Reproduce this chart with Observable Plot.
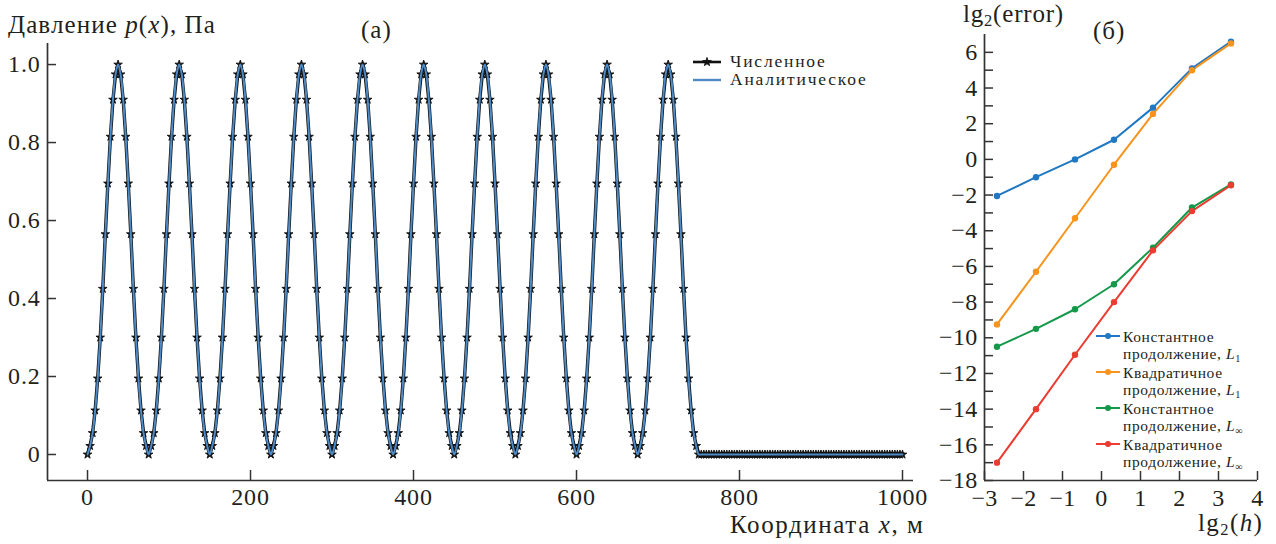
<!DOCTYPE html>
<html><head><meta charset="utf-8">
<script src="https://cdn.jsdelivr.net/npm/d3@7"></script>
<script src="https://cdn.jsdelivr.net/npm/@observablehq/plot@0.6"></script>
<style>
body{margin:0;background:#fff;}
#page{position:relative;width:1276px;height:544px;overflow:hidden;background:#fff;font-family:"Liberation Serif",serif;color:#231f20;}
.lbl{position:absolute;white-space:nowrap;line-height:1;}
.lbl sub{font-size:0.66em;vertical-align:-0.25em;line-height:0;}
#left,#right{position:absolute;top:0;}
#left{left:0;} #right{left:935px;}
</style></head><body><div id="page"><div id="left"></div><div id="right"></div></div>
<script>
// ---------- panel (а): pressure ----------
const peakX = [37.5, 112.5, 187.5, 262.5, 337.5, 412.5, 487.5, 562.5, 637.5, 712.5];
const starLevels = [1.0, 0.975, 0.91, 0.815, 0.695, 0.565, 0.425, 0.30, 0.195, 0.113, 0.055, 0.022, 0];
const sampleStep = 3.125;
const flatStart = 750, flatEnd = 1000, flatLevel = 0;
const leftXTicks = [0, 200, 400, 600, 800, 1000];
const leftYTicks = [0, 0.2, 0.4, 0.6, 0.8, 1.0];
const leftYTickLabels = ["0", "0.2", "0.4", "0.6", "0.8", "1.0"];

// ---------- panel (б): convergence ----------
const lgH = [-2.68, -1.68, -0.68, 0.32, 1.32, 2.32, 3.32];
const constL1 = [-2.05, -1.0, 0.0, 1.1, 2.9, 5.1, 6.6];
const quadL1 = [-9.25, -6.3, -3.3, -0.3, 2.55, 5.0, 6.5];
const constLinf = [-10.5, -9.5, -8.4, -7.0, -4.95, -2.7, -1.4];
const quadLinf = [-17.0, -14.0, -10.95, -8.0, -5.1, -2.9, -1.45];
const seriesNames = ["constL1", "quadL1", "constLinf", "quadLinf"];
const seriesColors = ["#1f78c1", "#f7941d", "#14984a", "#ec3b30"];
const legendLine1 = ["Константное", "Квадратичное", "Константное", "Квадратичное"];
const legendNorm = ["1", "1", "∞", "∞"];
const rightXTicks = [-3, -2, -1, 0, 1, 2, 3, 4];
const rightYTicks = [-18, -16, -14, -12, -10, -8, -6, -4, -2, 0, 2, 4, 6];
const rightYMinorTicks = [-17, -15, -13, -11, -9, -7, -5, -3, -1, 1, 3, 5];

const axisColor = "#333";
const fontFam = '"Liberation Serif", serif';
const minus = d => d < 0 ? "\u2212" + Math.abs(d) : String(d);

// build pressure samples
const pressure = [];
peakX.forEach((p, n) => {
  for (let j = -12; j <= 12; j++) {
    if (n > 0 && j === -12) continue;
    pressure.push({x: p + j * sampleStep, p: starLevels[Math.abs(j)]});
  }
});
for (let k = 1; flatStart + k * sampleStep <= flatEnd + 1e-9; k++) {
  pressure.push({x: flatStart + k * sampleStep, p: flatLevel});
}

const yLab = new Map(leftYTicks.map((d, i) => [d, leftYTickLabels[i]]));
const lx0 = -49.1, lx1 = 1013.5, ly0 = -0.0667, ly1 = 1.054;
const starR = 2.7;

const left = Plot.plot({
  width: 935, height: 544,
  marginLeft: 47, marginRight: 22, marginTop: 43, marginBottom: 64,
  style: {fontFamily: fontFam, fontSize: "24px", color: "#231f20", background: "transparent", letterSpacing: "0.8px", overflow: "visible"},
  x: {domain: [lx0, lx1]},
  y: {domain: [ly0, ly1]},
  marks: [
    Plot.ruleX([lx0], {stroke: axisColor, strokeWidth: 1.7}),
    Plot.ruleY([ly0], {stroke: axisColor, strokeWidth: 1.7}),
    Plot.axisX(leftXTicks, {tickSize: -10, tickPadding: 17, tickFormat: d => String(d), label: null, stroke: axisColor, strokeWidth: 1.5}),
    Plot.axisY(leftYTicks, {tickSize: -9, tickPadding: 16, tickFormat: d => yLab.get(d), label: null, stroke: axisColor, strokeWidth: 1.5}),
    Plot.line(pressure, {x: "x", y: "p", stroke: "#111", strokeWidth: 3.4}),
    Plot.dot(pressure, {x: "x", y: "p", symbol: "star", r: starR, fill: "#111", stroke: "#111", strokeWidth: 0.9}),
    Plot.line(pressure, {x: "x", y: "p", stroke: "#4d8ac6", strokeWidth: 2, curve: "catmull-rom"})
  ]
});
document.getElementById("left").appendChild(left);

const errSeries = [constL1, quadL1, constLinf, quadLinf];
const errors = errSeries.flatMap((vals, s) => vals.map((v, i) => ({h: lgH[i], e: v, s: seriesNames[s]})));

const right = Plot.plot({
  width: 341, height: 544,
  marginLeft: 49, marginRight: 19, marginTop: 34, marginBottom: 64,
  style: {fontFamily: fontFam, fontSize: "24px", color: "#231f20", background: "transparent", letterSpacing: "0.3px", overflow: "visible"},
  x: {domain: [-3, 4]},
  y: {domain: [-18, 7]},
  color: {domain: seriesNames, range: seriesColors},
  marks: [
    Plot.ruleX([-3], {stroke: axisColor, strokeWidth: 1.7}),
    Plot.ruleY([-18], {stroke: axisColor, strokeWidth: 1.7}),
    Plot.axisX(rightXTicks, {tickSize: -9, tickPadding: 17, tickFormat: minus, label: null, stroke: axisColor, strokeWidth: 1.5}),
    Plot.axisY(rightYTicks, {tickSize: -9, tickPadding: 16, tickFormat: minus, label: null, stroke: axisColor, strokeWidth: 1.5}),
    Plot.axisY(rightYMinorTicks, {tickSize: -9, tickPadding: 16, tickFormat: () => "", label: null, stroke: axisColor, strokeWidth: 1.5}),
    Plot.line(errors, {x: "h", y: "e", z: "s", stroke: "s", strokeWidth: 2}),
    Plot.dot(errors, {x: "h", y: "e", fill: "s", r: 3.2})
  ]
});
document.getElementById("right").appendChild(right);

// ---------- text overlays ----------
const page = document.getElementById("page");
function label(html, x, baseline, size, extra = "") {
  const d = document.createElement("div");
  d.className = "lbl";
  d.style.cssText = `left:${x}px;top:${baseline - 0.8375 * size}px;font-size:${size}px;${extra}`;
  d.innerHTML = html;
  page.appendChild(d);
  return d;
}
label("Давление <i>p</i>(<i>x</i>), Па", 8, 33, 25, "letter-spacing:1.1px;");
label("(а)", 361, 38, 25, "letter-spacing:1px;");
label("Координата <i>x</i>, м", 730, 533, 25, "letter-spacing:1.6px;");
label("lg<sub>2</sub>(error)", 963, 22, 25, "letter-spacing:0.8px;");
label("(б)", 1093, 39, 25, "letter-spacing:1px;");
label("lg<sub>2</sub>(<i>h</i>)", 1198, 531, 25, "letter-spacing:1.4px;");

// legend (а)
const starPath = d3.symbol(d3.symbolStar, starR * starR * Math.PI)();
const legA = [
  {y: 62, text: "Численное", svg: `<line x1="0" y1="7" x2="28" y2="7" stroke="#111" stroke-width="2.6"/><path d="${starPath}" transform="translate(14,7)" fill="#111" stroke="#111" stroke-width="0.9"/>`},
  {y: 80, text: "Аналитическое", svg: `<line x1="0" y1="7" x2="28" y2="7" stroke="#4d8ac6" stroke-width="2.4"/>`}
];
legA.forEach(it => {
  const s = document.createElementNS("http://www.w3.org/2000/svg", "svg");
  s.setAttribute("width", 30); s.setAttribute("height", 14);
  s.style.cssText = `position:absolute;left:693px;top:${it.y - 7}px;`;
  s.innerHTML = it.svg;
  page.appendChild(s);
  label(it.text, 730, it.y + 6, 17.5, "letter-spacing:1.8px;");
});

// legend (б)
seriesNames.forEach((n, i) => {
  const ly = 336 + 36 * i;
  const s = document.createElementNS("http://www.w3.org/2000/svg", "svg");
  s.setAttribute("width", 26); s.setAttribute("height", 10);
  s.style.cssText = `position:absolute;left:1096px;top:${ly - 5}px;`;
  s.innerHTML = `<line x1="0" y1="5" x2="24" y2="5" stroke="${seriesColors[i]}" stroke-width="2"/><circle cx="12" cy="5" r="3" fill="${seriesColors[i]}"/>`;
  page.appendChild(s);
  label(legendLine1[i], 1123, ly + 5.5, 15.5, "letter-spacing:0.6px;");
  label(`продолжение, <i>L</i><sub>${legendNorm[i]}</sub>`, 1123, ly + 22.5, 15.5, "letter-spacing:0.6px;");
});
</script></body></html>
